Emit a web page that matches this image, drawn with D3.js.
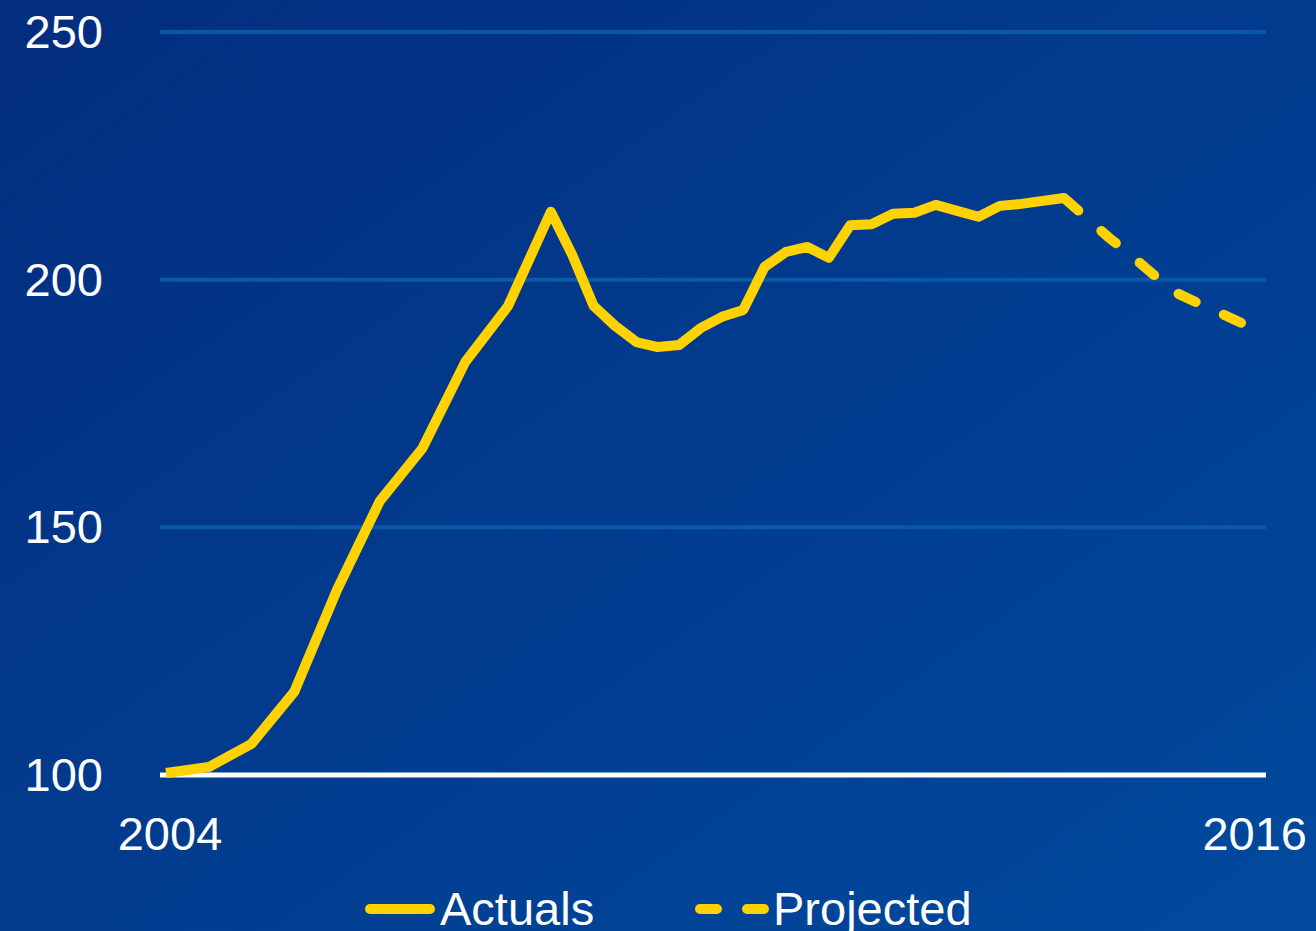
<!DOCTYPE html>
<html lang="en">
    <head>
        <meta charset="utf-8">
        <title>Index 2004-2016: actuals and projection</title>
        <script src="https://d3js.org/d3.v7.min.js"></script>
        <style type="text/css">
         body { margin: 0; background: #023a8c; }
         svg { display: block; font-family: "Liberation Sans", Arial, sans-serif; }
        </style>
    </head>
    <body>
        <script type="text/javascript">
         //Data: one point per quarter slot (early years are half-yearly)
         var yTicks = [100, 150, 200, 250];
         var xLabels = ["2004", "2016"];
         var legendLabels = ["Actuals", "Projected"];

         var actualIdx = [0, 2, 4, 6, 8, 10, 12, 14, 16, 18,
                          19, 20, 21, 22, 23, 24, 25, 26, 27, 28, 29, 30,
                          31, 32, 33, 34, 35, 36, 37, 38, 39, 40, 41, 42];
         var actualVal = [100.4, 101.6, 106.3, 116.8, 137.4, 155.3, 166.0, 183.4, 194.7, 213.7,
                          205.0, 194.7, 190.7, 187.4, 186.4, 186.8, 190.2, 192.5, 193.9, 202.6, 205.6, 206.6,
                          204.4, 211.0, 211.2, 213.3, 213.5, 215.1, 213.9, 212.7, 214.9, 215.3, 215.9, 216.5];

         var projIdx = [42, 43, 44, 45, 46, 47, 48, 49, 50];
         var projVal = [216.5, 212.6, 208.6, 205.0, 201.2, 197.5, 195.4, 193.4, 191.3];

         //Width and height
         var width = 1316;
         var height = 931;

         var svg = d3.select("body")
                     .append("svg")
                     .attr("width", width)
                     .attr("height", height);

         //Background gradient
         var defs = svg.append("defs");
         var grad = defs.append("linearGradient")
                        .attr("id", "bg")
                        .attr("x1", "0").attr("y1", "0")
                        .attr("x2", "1").attr("y2", "1");
         grad.append("stop").attr("offset", "0").attr("stop-color", "#032d7e");
         grad.append("stop").attr("offset", "1").attr("stop-color", "#004a9e");
         svg.append("rect")
            .attr("width", width)
            .attr("height", height)
            .attr("fill", "url(#bg)");

         //Scales (projection quarters are drawn a little wider apart)
         var x = d3.scaleLinear()
                   .domain([0, 42, 50])
                   .range([166, 1064, 1241]);
         var y = d3.scaleLinear()
                   .domain([100, 250])
                   .range([775, 32]);

         var gridLeft = 160, gridRight = 1266;

         //Gridlines
         svg.selectAll("line.grid")
            .data(yTicks.filter(function(d) { return d > 100; }))
            .enter()
            .append("line")
            .attr("class", "grid")
            .attr("x1", gridLeft)
            .attr("x2", gridRight)
            .attr("y1", function(d) { return y(d); })
            .attr("y2", function(d) { return y(d); })
            .attr("stroke", "#0a58a8")
            .attr("stroke-width", 4);

         //Baseline
         svg.append("line")
            .attr("x1", gridLeft)
            .attr("x2", gridRight)
            .attr("y1", y(100))
            .attr("y2", y(100))
            .attr("stroke", "#ffffff")
            .attr("stroke-width", 5);

         //Y labels
         svg.selectAll("text.ytick")
            .data(yTicks)
            .enter()
            .append("text")
            .attr("class", "ytick")
            .attr("x", 103)
            .attr("y", function(d) { return y(d) + 16; })
            .attr("text-anchor", "end")
            .attr("fill", "#ffffff")
            .attr("font-size", 47)
            .text(function(d) { return d; });

         //X labels
         svg.append("text")
            .attr("x", 170)
            .attr("y", 850)
            .attr("text-anchor", "middle")
            .attr("fill", "#ffffff")
            .attr("font-size", 47)
            .text(xLabels[0]);
         svg.append("text")
            .attr("x", 1307)
            .attr("y", 850)
            .attr("text-anchor", "end")
            .attr("fill", "#ffffff")
            .attr("font-size", 47)
            .text(xLabels[1]);

         //Lines
         var line = d3.line()
                      .x(function(d) { return x(d[0]); })
                      .y(function(d) { return y(d[1]); });

         var projected = d3.zip(projIdx, projVal);
         var actual = d3.zip(actualIdx, actualVal);

         var projPath = svg.append("path")
            .datum(projected)
            .attr("d", line)
            .attr("fill", "none")
            .attr("stroke", "#ffd200")
            .attr("stroke-width", 10)
            .attr("stroke-linecap", "round")
            .attr("stroke-linejoin", "round");

         //fit the dashes so the last one finishes at the end of the line
         var projLen = projPath.node().getTotalLength();
         var dash = 19;
         var period = (projLen - dash) / 4;
         projPath.attr("stroke-dasharray", dash + "," + (period - dash));

         svg.append("path")
            .datum(actual)
            .attr("d", line)
            .attr("fill", "none")
            .attr("stroke", "#ffd200")
            .attr("stroke-width", 10)
            .attr("stroke-linejoin", "round");

         //Legend
         var legend = svg.append("g");
         legend.append("line")
               .attr("x1", 370).attr("x2", 430)
               .attr("y1", 909).attr("y2", 909)
               .attr("stroke", "#ffd200")
               .attr("stroke-width", 10)
               .attr("stroke-linecap", "round");
         legend.append("text")
               .attr("x", 440)
               .attr("y", 925)
               .attr("fill", "#ffffff")
               .attr("font-size", 47)
               .text(legendLabels[0]);
         legend.append("line")
               .attr("x1", 700).attr("x2", 764)
               .attr("y1", 909).attr("y2", 909)
               .attr("stroke", "#ffd200")
               .attr("stroke-width", 10)
               .attr("stroke-linecap", "round")
               .attr("stroke-dasharray", "17,30");
         legend.append("text")
               .attr("x", 773)
               .attr("y", 925)
               .attr("fill", "#ffffff")
               .attr("font-size", 47)
               .text(legendLabels[1]);
        </script>
    </body>
</html>
